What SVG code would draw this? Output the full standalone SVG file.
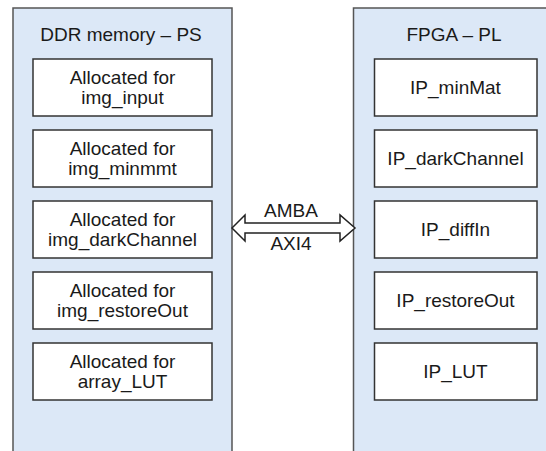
<svg xmlns="http://www.w3.org/2000/svg" width="546" height="451" viewBox="0 0 546 451">
<style>
.panel{fill:#dce8f7;stroke:#555;stroke-width:1.5}
.box{fill:#fff;stroke:#333;stroke-width:1.5}
text{font-family:"Liberation Sans",Arial,sans-serif;font-size:19px;fill:#1a1a1a;text-anchor:middle}
.arrow{fill:#fff;stroke:#222;stroke-width:1.5;stroke-linejoin:miter}
</style>
<rect width="546" height="451" fill="#fff"/>
<g id="panel-ps">
<rect class="panel" x="13" y="8" width="219" height="460"/>
<text x="121" y="41">DDR memory – PS</text>
</g>
<g id="panel-pl">
<rect class="panel" x="353.5" y="8" width="220" height="460"/>
<text x="454" y="41">FPGA – PL</text>
</g>
<g id="ps-img_input">
<rect class="box" x="33" y="59" width="179" height="57"/>
<text x="122.5" y="84">Allocated for</text>
<text x="122.5" y="104">img_input</text>
</g>
<g id="ps-img_minmmt">
<rect class="box" x="33" y="130" width="179" height="57"/>
<text x="122.5" y="155">Allocated for</text>
<text x="122.5" y="175">img_minmmt</text>
</g>
<g id="ps-img_darkChannel">
<rect class="box" x="33" y="201" width="179" height="57"/>
<text x="122.5" y="226">Allocated for</text>
<text x="122.5" y="246">img_darkChannel</text>
</g>
<g id="ps-img_restoreOut">
<rect class="box" x="33" y="272" width="179" height="57"/>
<text x="122.5" y="297">Allocated for</text>
<text x="122.5" y="317">img_restoreOut</text>
</g>
<g id="ps-array_LUT">
<rect class="box" x="33" y="343" width="179" height="57"/>
<text x="122.5" y="368">Allocated for</text>
<text x="122.5" y="388">array_LUT</text>
</g>
<g id="pl-IP_minMat">
<rect class="box" x="374.5" y="59" width="162.5" height="57"/>
<text x="455.5" y="93.5">IP_minMat</text>
</g>
<g id="pl-IP_darkChannel">
<rect class="box" x="374.5" y="130" width="162.5" height="57"/>
<text x="455.5" y="164.5">IP_darkChannel</text>
</g>
<g id="pl-IP_diffIn">
<rect class="box" x="374.5" y="201" width="162.5" height="57"/>
<text x="455.5" y="235.5">IP_diffIn</text>
</g>
<g id="pl-IP_restoreOut">
<rect class="box" x="374.5" y="272" width="162.5" height="57"/>
<text x="455.5" y="306.5">IP_restoreOut</text>
</g>
<g id="pl-IP_LUT">
<rect class="box" x="374.5" y="343" width="162.5" height="57"/>
<text x="455.5" y="377.5">IP_LUT</text>
</g>
<g id="connectors">
<path class="arrow" d="M232,228 L245,215 L245,223 L340,223 L340,215 L355,228 L340,241 L340,233 L245,233 L245,241 Z"/>
<text x="291" y="217">AMBA</text>
<text x="291" y="250">AXI4</text>
</g>
</svg>
